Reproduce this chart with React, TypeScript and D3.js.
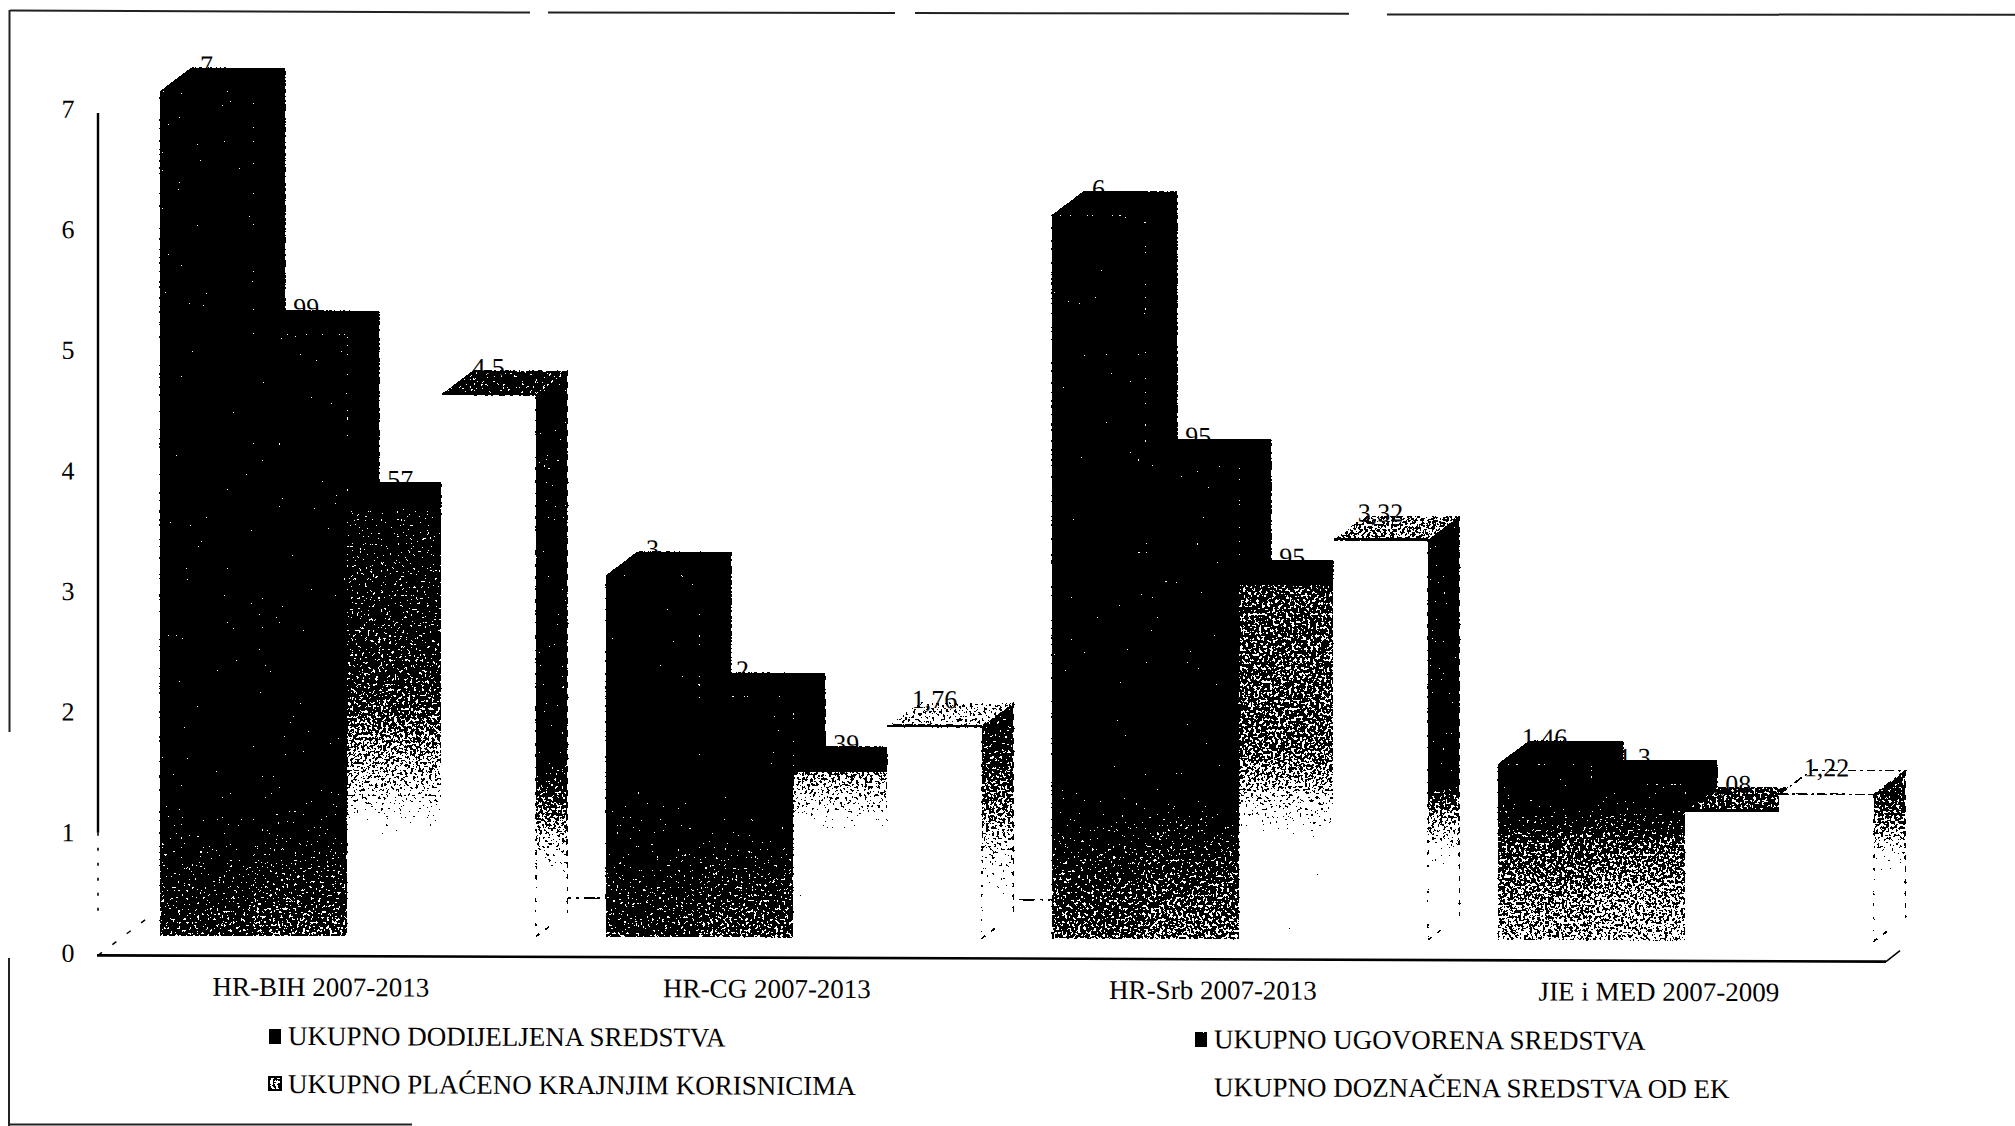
import * as d3 from 'd3'

const categories = ['HR-BIH 2007-2013', 'HR-CG 2007-2013', 'HR-Srb 2007-2013', 'JIE i MED 2007-2009']
const dodijeljena = [7, 3, 6, 1.46]
const ugovorena = [4.99, 2, 3.95, 1.3]
const placeno = [3.57, 1.39, 2.95, 1.08]
const doznacena = [4.5, 1.76, 3.32, 1.22]
const seriesValues = [dodijeljena, ugovorena, placeno, doznacena]
const yTicks = [0, 1, 2, 3, 4, 5, 6, 7]
const legendLabels = [
  'UKUPNO DODIJELJENA SREDSTVA',
  'UKUPNO UGOVORENA SREDSTVA',
  'UKUPNO PLAĆENO KRAJNJIM KORISNICIMA',
  'UKUPNO DOZNAČENA SREDSTVA OD EK',
]

// Grey ramps as [value, tone]. Tone 0-1 goes through the dither filter,
// roughly 0.25 is solid black and 0.75 solid white.
type Ramp = [number, number][]
const frontRamps: Ramp[][] = [
  [
    [[1.25, 0.22], [0.6, 0.31], [0, 0.38]],
    [[1.4, 0.22], [0.8, 0.26], [0.3, 0.34], [0, 0.38]],
    [[1.3, 0.22], [0.8, 0.32], [0.3, 0.4], [0, 0.44]],
    [[1.2, 0.24], [0.8, 0.41], [0.45, 0.47], [0, 0.53]],
  ],
  [
    [[1.25, 0.22], [0.6, 0.33], [0, 0.43]],
    [[1.0, 0.22], [0.6, 0.33], [0.2, 0.4], [0, 0.43]],
    [[1.3, 0.22], [0.8, 0.34], [0.3, 0.43], [0, 0.47]],
    [[1.2, 0.24], [0.8, 0.43], [0.45, 0.5], [0, 0.55]],
  ],
  [
    [[3.57, 0.3], [2.1, 0.38], [1.7, 0.47], [1.25, 0.58], [0.97, 0.7], [0.7, 0.82]],
    [[1.39, 0.5], [1.1, 0.62], [0.95, 0.72], [0.8, 0.82]],
    [[2.95, 0.42], [1.6, 0.45], [1.33, 0.52], [1.08, 0.64], [0.87, 0.73], [0.7, 0.82]],
    [[1, 1], [0, 1]],
  ],
  [[[1, 1], [0, 1]], [[1, 1], [0, 1]], [[1, 1], [0, 1]], [[1, 1], [0, 1]]],
]
const sideRamps: Ramp[] = [
  [[1.5, 0.26], [0.97, 0.5], [0.55, 0.7], [0.3, 0.85]],
  [[1.76, 0.33], [1.0, 0.5], [0.5, 0.7], [0.15, 0.85]],
  [[1.33, 0.26], [1.05, 0.5], [0.69, 0.7], [0.45, 0.85]],
  [[1.22, 0.38], [0.95, 0.5], [0.7, 0.68], [0.35, 0.85]],
]
const topTones = [
  [0, 0, 0, 0.34],
  [0, 0, 0, 0.58],
  [0, 0, 0, 0.5],
  [0, 0, 0.42, 1],
]

const WIDTH = 2015
const HEIGHT = 1126
const SHEAR = 0.0035 // the scan runs slightly downhill to the right
const FONT = '"Liberation Serif", serif'
const BAR_W = 94
const DEPTH_X = 32
const DEPTH_Y = 24
const BAR_INSET = 61.5

const xGroup = d3.scaleBand<string>().domain(categories).range([98, 1882])
const yAxis = d3.scaleLinear().domain([0, 7]).range([953, 109])
const yBar = d3.scaleLinear().domain([0, 7]).range([935.1, 90.9])
const valueLabel = (v: number) => String(v).replace('.', ',')
const grey = (t: number) => d3.rgb(t * 255, t * 255, t * 255).formatHex()
const poly = d3.line()

function Gradient({ id, ramp }: { id: string; ramp: Ramp }) {
  const first = ramp[0][0]
  const last = ramp[ramp.length - 1][0]
  return (
    <linearGradient id={id} gradientUnits="userSpaceOnUse" x1={0} x2={0} y1={yBar(first)} y2={yBar(last)}>
      {ramp.map(([v, t], i) => (
        <stop key={i} offset={(first - v) / (first - last)} stopColor={grey(t)} />
      ))}
    </linearGradient>
  )
}

function Bar({ g, s }: { g: number; s: number }) {
  const v = seriesValues[s][g]
  const x = (xGroup(categories[g]) as number) + BAR_INSET + s * BAR_W
  const x2 = x + BAR_W
  const top = yBar(v)
  const base = yBar(0)
  const isLast = s === 3
  const outlineOnly = s === 3 && g === 3
  const topPath = poly([[x, top], [x + DEPTH_X, top - DEPTH_Y], [x2 + DEPTH_X, top - DEPTH_Y], [x2, top]]) + 'Z'
  const sidePath = poly([[x2, top], [x2 + DEPTH_X, top - DEPTH_Y], [x2 + DEPTH_X, base - DEPTH_Y], [x2, base]]) + 'Z'
  return (
    <g>
      <path d={sidePath} fill={isLast ? `url(#side-${g})` : '#000'} />
      {isLast && (
        <g stroke="#000" strokeWidth={1.6} strokeDasharray="5 7">
          <line x1={x2} x2={x2} y1={top} y2={base} />
          <line x1={x2 + DEPTH_X} x2={x2 + DEPTH_X} y1={top - DEPTH_Y} y2={base - DEPTH_Y} />
          <line x1={x2} x2={x2 + DEPTH_X / 2} y1={base} y2={base - DEPTH_Y / 2} />
        </g>
      )}
      <path d={topPath} fill={grey(topTones[g][s])} />
      {outlineOnly && <path d={topPath} fill="none" stroke="#000" strokeWidth={1.6} strokeDasharray="9 4 2 4" />}
      <rect x={x} y={top} width={BAR_W} height={base - top} fill={`url(#front-${s}-${g})`} />
      {s >= 2 && g + s < 6 && <line x1={x} x2={x2} y1={top} y2={top} stroke="#000" strokeWidth={2.4} />}
      {outlineOnly && <line x1={x} x2={x2} y1={top} y2={top} stroke="#000" strokeWidth={1.6} strokeDasharray="9 4 2 4" />}
    </g>
  )
}

export default function App() {
  const shear = `matrix(1,${SHEAR},0,1,0,0)`
  const floorY = yAxis(0) + 2
  const backY = yBar(0) - 39
  const floorRight = 1882 + 4
  const legendCols = [288, 1214]
  const legendRows = [1035, 1083]

  return (
    <svg width={WIDTH} height={HEIGHT} style={{ position: 'absolute', left: 0, top: 0, background: '#fff' }}>
      <defs>
        {frontRamps.map((rs, s) => rs.map((r, g) => <Gradient key={`${s}${g}`} id={`front-${s}-${g}`} ramp={r} />))}
        {sideRamps.map((r, g) => <Gradient key={g} id={`side-${g}`} ramp={r} />)}
        {/* Bitonal scan look: add noise to the grey, then threshold it.
            The frequency must not hit the noise lattice (0.5 leaves flat pixels). */}
        <filter id="dither" filterUnits="userSpaceOnUse" x={0} y={0} width={WIDTH} height={HEIGHT} colorInterpolationFilters="sRGB">
          <feTurbulence type="fractalNoise" baseFrequency="0.37" numOctaves={2} seed={11} result="n" />
          <feColorMatrix in="n" type="matrix" values="0 0 0 1 0 0 0 0 1 0 0 0 0 1 0 0 0 0 0 1" result="grey" />
          <feComposite in="SourceGraphic" in2="grey" operator="arithmetic" k1={0} k2={1.2} k3={1} k4={-0.6} />
          <feComponentTransfer>
            <feFuncR type="discrete" tableValues="0 1" />
            <feFuncG type="discrete" tableValues="0 1" />
            <feFuncB type="discrete" tableValues="0 1" />
          </feComponentTransfer>
        </filter>
      </defs>

      <g filter="url(#dither)">
        <rect width={WIDTH} height={HEIGHT} fill="#fff" />
        <g transform={shear}>
          <line x1={178} x2={1053} y1={backY} y2={backY} stroke="#000" strokeWidth={1.6} strokeDasharray="16 5 3 5" />
          {categories.map((_, g) => (
            <g key={g}>{seriesValues.map((__, s) => <Bar key={s} g={g} s={s} />)}</g>
          ))}
          {/* legend swatches */}
          <rect x={269} y={legendRows[0] - 7} width={12} height={15} fill="#000" />
          <rect x={1195} y={legendRows[0] - 7} width={12} height={15} fill="#000" />
          <rect x={269} y={legendRows[1] - 7} width={12} height={13} fill="#888" stroke="#000" strokeWidth={2} />
        </g>
      </g>

      <g transform={shear} fontFamily={FONT} fontSize={26} fill="#000">
        {/* y axis, solid down to about 1 and breaking up below */}
        <line x1={98} x2={98} y1={yAxis(6.97)} y2={yAxis(1)} stroke="#000" strokeWidth={2.4} />
        <line x1={98} x2={98} y1={yAxis(1)} y2={yAxis(0.33)} stroke="#000" strokeWidth={1.6} strokeDasharray="3 12" />
        {/* floor */}
        <line x1={97} x2={floorRight} y1={floorY} y2={floorY} stroke="#000" strokeWidth={2.6} />
        <line x1={98} x2={151} y1={floorY} y2={floorY - 40} stroke="#000" strokeWidth={1.5} strokeDasharray="5 13" />
        <line x1={floorRight} x2={floorRight + 14} y1={floorY} y2={floorY - 11} stroke="#000" strokeWidth={1.6} />

        {yTicks.map((t) => (
          <text key={t} x={68} y={yAxis(t)} textAnchor="middle" dominantBaseline="central">{t}</text>
        ))}
        <g fontSize={27}>
          {categories.map((c) => (
            <text key={c} x={(xGroup(c) as number) + xGroup.bandwidth() / 2} y={986} textAnchor="middle" dominantBaseline="central">{c}</text>
          ))}
          {legendLabels.map((l, i) => (
            <text key={l} x={legendCols[i % 2]} y={legendRows[Math.floor(i / 2)]} dominantBaseline="central">{l}</text>
          ))}
        </g>
        {seriesValues.map((vals, s) =>
          vals.map((v, g) => (
            <text
              key={`${s}${g}`}
              x={(xGroup(categories[g]) as number) + BAR_INSET + s * BAR_W + BAR_W / 2 - (s === 1 || s === 2 ? 4 : 0)}
              y={yBar(v) - DEPTH_Y + 6}
              textAnchor="middle"
            >
              {valueLabel(v)}
            </text>
          ))
        )}
      </g>

      {/* remains of the scanned frame */}
      <g stroke="#222" strokeWidth={2} fill="none">
        <path d="M10 10.5L530 12.5M548 12.5L895 13M915 13L1349 13.7M1387 14.5L2015 14.7" />
        <path d="M9.5 10V732M9 958V1126" />
        <path d="M9 1124.5H412" />
      </g>
    </svg>
  )
}
